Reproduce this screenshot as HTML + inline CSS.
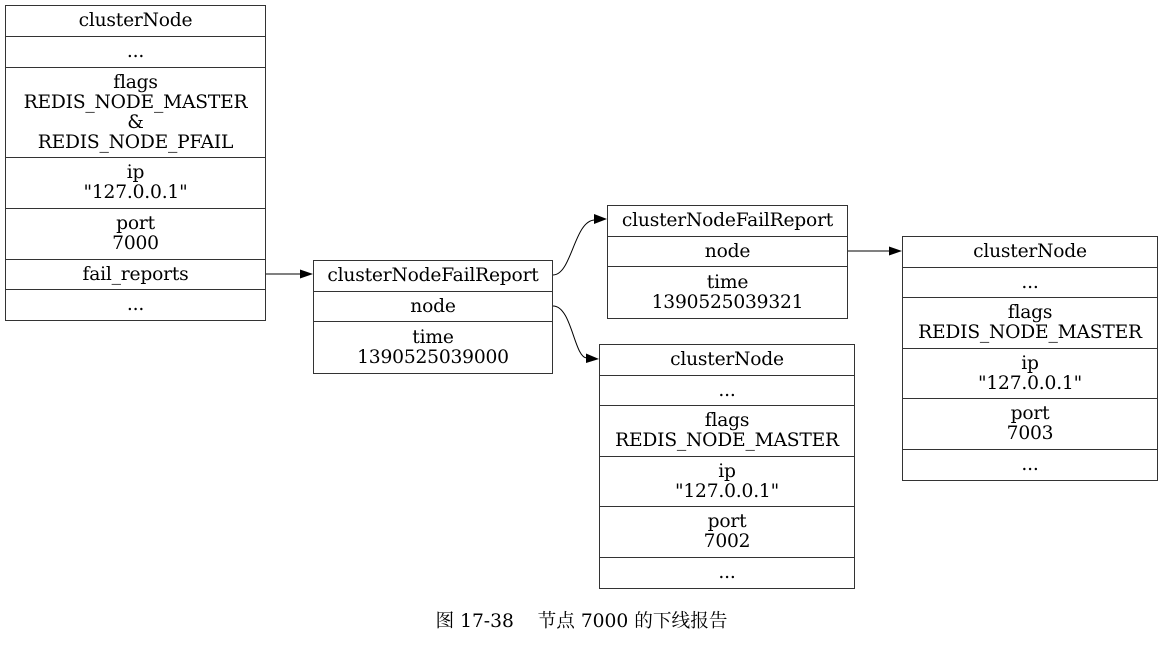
<!DOCTYPE html>
<html><head><meta charset="utf-8"><style>
body{margin:0;width:1163px;height:646px;background:#fff;position:relative;overflow:hidden;font-family:"DejaVu Serif","Noto Serif CJK SC",serif;font-size:18.67px;color:#000}
.r{position:absolute;box-sizing:border-box;border:1px solid #333;display:flex;align-items:center;justify-content:center;text-align:center;line-height:20px;background:#fff;white-space:nowrap;letter-spacing:-0.2px}
svg{position:absolute;left:0;top:0}
.cap{position:absolute;left:0;width:1163px;top:611px;text-align:center;font-size:18.67px;line-height:22px}
</style></head><body>
<div class="r" style="left:5px;top:5px;width:261px;height:32px">clusterNode</div>
<div class="r" style="left:5px;top:36px;width:261px;height:32px">...</div>
<div class="r" style="left:5px;top:67px;width:261px;height:91px">flags<br>REDIS_NODE_MASTER<br>&amp;<br>REDIS_NODE_PFAIL</div>
<div class="r" style="left:5px;top:157px;width:261px;height:52px">ip<br>"127.0.0.1"</div>
<div class="r" style="left:5px;top:208px;width:261px;height:52px">port<br>7000</div>
<div class="r" style="left:5px;top:259px;width:261px;height:31px">fail_reports</div>
<div class="r" style="left:5px;top:289px;width:261px;height:32px">...</div>
<div class="r" style="left:313px;top:260px;width:240px;height:32px">clusterNodeFailReport</div>
<div class="r" style="left:313px;top:291px;width:240px;height:31px">node</div>
<div class="r" style="left:313px;top:321px;width:240px;height:53px">time<br>1390525039000</div>
<div class="r" style="left:607px;top:205px;width:241px;height:32px">clusterNodeFailReport</div>
<div class="r" style="left:607px;top:236px;width:241px;height:31px">node</div>
<div class="r" style="left:607px;top:266px;width:241px;height:53px">time<br>1390525039321</div>
<div class="r" style="left:902px;top:236px;width:256px;height:32px">clusterNode</div>
<div class="r" style="left:902px;top:267px;width:256px;height:31px">...</div>
<div class="r" style="left:902px;top:297px;width:256px;height:52px">flags<br>REDIS_NODE_MASTER</div>
<div class="r" style="left:902px;top:348px;width:256px;height:51px">ip<br>"127.0.0.1"</div>
<div class="r" style="left:902px;top:398px;width:256px;height:52px">port<br>7003</div>
<div class="r" style="left:902px;top:449px;width:256px;height:32px">...</div>
<div class="r" style="left:599px;top:344px;width:256px;height:32px">clusterNode</div>
<div class="r" style="left:599px;top:375px;width:256px;height:31px">...</div>
<div class="r" style="left:599px;top:405px;width:256px;height:52px">flags<br>REDIS_NODE_MASTER</div>
<div class="r" style="left:599px;top:456px;width:256px;height:51px">ip<br>"127.0.0.1"</div>
<div class="r" style="left:599px;top:506px;width:256px;height:52px">port<br>7002</div>
<div class="r" style="left:599px;top:557px;width:256px;height:32px">...</div>
<svg width="1163" height="646">
<g fill="none" stroke="#000" stroke-width="1">
<path d="M266,274 L301,274"/>
<path d="M553,275 C572,275 574,220 595,220"/>
<path d="M553,306 C572,306 574,358 587,358"/>
<path d="M848,251 L890,251"/>
</g>
<g fill="#000">
<polygon points="313,274 300,269.5 300,278.5"/>
<polygon points="607,219 594,214 594,224"/>
<polygon points="599,359 586,353.5 586,363"/>
<polygon points="902,251 889,246.5 889,255.5"/>
</g>
</svg>
<div class="cap">图 17-38&nbsp;&nbsp;&nbsp;&nbsp;节点 7000 的下线报告</div>
</body></html>
